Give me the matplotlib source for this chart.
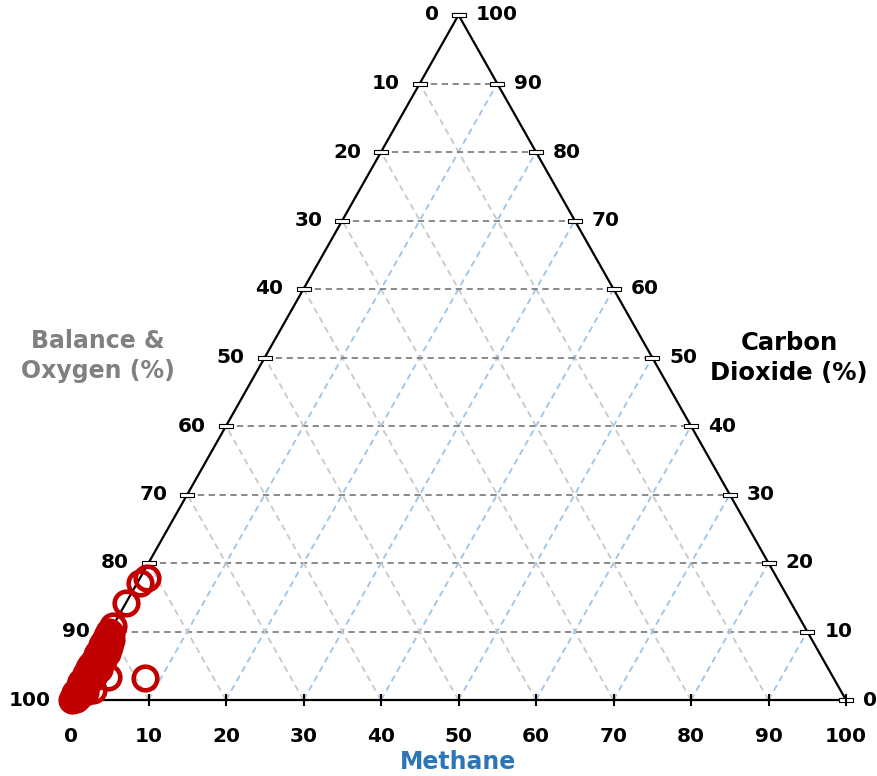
import matplotlib.pyplot as plt
import numpy as np

# ternary data: methane (%) and carbon dioxide (%); balance = 100 - both
methane = [0.9, 0.3, 0.0, 0.0, 0.0, 3.1, 7.9, 2.1, 0.1,
           0.0, 0.5, 0.2, 0.8, 0.0, 0.4, 1.0, 0.3, 0.0, 0.6,
           1.2, 0.2, 0.9, 0.0, 0.5, 1.4, 0.3, 0.8, 0.0, 0.6,
           1.1, 0.2, 0.5, 0.0, 0.9, 0.4, 0.0, 0.7, 0.2,
           0.3, 0.7, 0.1, 1.0, 0.4, 0.0, 1.3, 0.6, 0.2, 0.9,
           0.0, 0.5, 1.1, 0.3, 0.8, 0.0, 0.4, 1.2, 0.1, 0.6]
co2 = [17.8, 17.1, 14.2, 10.8, 9.9, 3.4, 3.2, 1.5, 0.0,
       9.3, 9.0, 8.6, 8.2, 8.0, 7.6, 7.2, 7.0, 6.6, 6.3,
       5.9, 5.8, 5.4, 5.1, 4.8, 4.5, 4.3, 3.9, 3.8, 3.4,
       3.0, 2.9, 2.4, 2.2, 1.9, 1.3, 1.0, 0.6, 0.4,
       9.6, 8.8, 8.4, 7.8, 7.4, 6.9, 6.8, 6.1, 5.6, 5.2,
       4.6, 4.1, 3.7, 3.2, 2.7, 2.6, 1.7, 1.2, 0.8, 0.2]
ticks = list(range(0, 101, 10))

RED = '#C00000'
BLUE_GRID = '#9DC3E6'
GRAY_GRID = '#C8C8C8'
DARK_GRID = '#808080'


def xy(m, c):
    # methane along bottom, CO2 up
    m = np.asarray(m, dtype=float)
    c = np.asarray(c, dtype=float)
    return m + c / 2.0, c


fig = plt.figure(figsize=(8.77, 7.76), dpi=100)
ax = fig.add_axes([0, 0, 1, 1])
px = 7.75
py = 6.85
ax.set_xlim(-71 / px, (877 - 71) / px)
ax.set_ylim(-76 / py, (776 - 76) / py)
ax.axis('off')

dash = (0, (3.5, 2.5))
for t in ticks[1:-1]:
    # constant CO2 (horizontal)
    x, y = xy([0, 100 - t], [t, t])
    ax.plot(x, y, color=DARK_GRID, lw=1.3, ls=dash, zorder=1)
    # constant balance (parallel to right side)
    x, y = xy([100 - t, 0], [0, 100 - t])
    ax.plot(x, y, color=GRAY_GRID, lw=1.3, ls=dash, zorder=1)
    # constant methane (parallel to left side)
    x, y = xy([t, t], [0, 100 - t])
    ax.plot(x, y, color=BLUE_GRID, lw=1.3, ls=dash, zorder=1)

# triangle
x, y = xy([0, 100, 0, 0], [0, 0, 100, 0])
ax.plot(x, y, color='black', lw=1.6, zorder=2, solid_joinstyle='miter')

rect = [(-3, -1), (3, -1), (3, 1), (-3, 1), (-3, -1)]
lab = dict(fontsize=14.5, fontweight='bold', family='DejaVu Sans', color='black')
for t in ticks:
    # left side: balance
    lx, ly = xy(0, 100 - t)
    ax.scatter(lx, ly, marker=rect, s=110, facecolor='white', edgecolor='black', lw=0.8, zorder=3)
    ax.annotate(str(t), (lx, ly), xytext=(-20, 0), textcoords='offset pixels',
                ha='right', va='center', **lab)
    # right side: CO2
    rx, ry = xy(100 - t, t)
    ax.scatter(rx, ry, marker=rect, s=110, facecolor='white', edgecolor='black', lw=0.8, zorder=3)
    ax.annotate(str(t), (rx, ry), xytext=(17, 0), textcoords='offset pixels',
                ha='left', va='center', **lab)
    # bottom: methane
    bx, by = xy(t, 0)
    ax.plot(bx, by, marker='|', ms=9, mew=1.5, color='black', zorder=3)
    ax.annotate(str(t), (bx, by), xytext=(0, -36), textcoords='offset pixels',
                ha='center', va='center', **lab)

fig.text(458 / 877, 1 - 762 / 776, 'Methane', ha='center', va='center',
         fontsize=17, fontweight='bold', color='#2E75B6')
fig.text(98 / 877, 1 - 356 / 776, 'Balance &\nOxygen (%)', ha='center', va='center',
         fontsize=17, fontweight='bold', color='#808080', linespacing=1.3)
fig.text(789 / 877, 1 - 358 / 776, 'Carbon\nDioxide (%)', ha='center', va='center',
         fontsize=17.5, fontweight='bold', color='black', linespacing=1.3)

# data
dx, dy = xy(methane, co2)
ax.plot(dx, dy, ls='none', marker='o', ms=17, mfc='none', mec=RED, mew=3.3, zorder=4)

fig.savefig('out.png', dpi=100)
